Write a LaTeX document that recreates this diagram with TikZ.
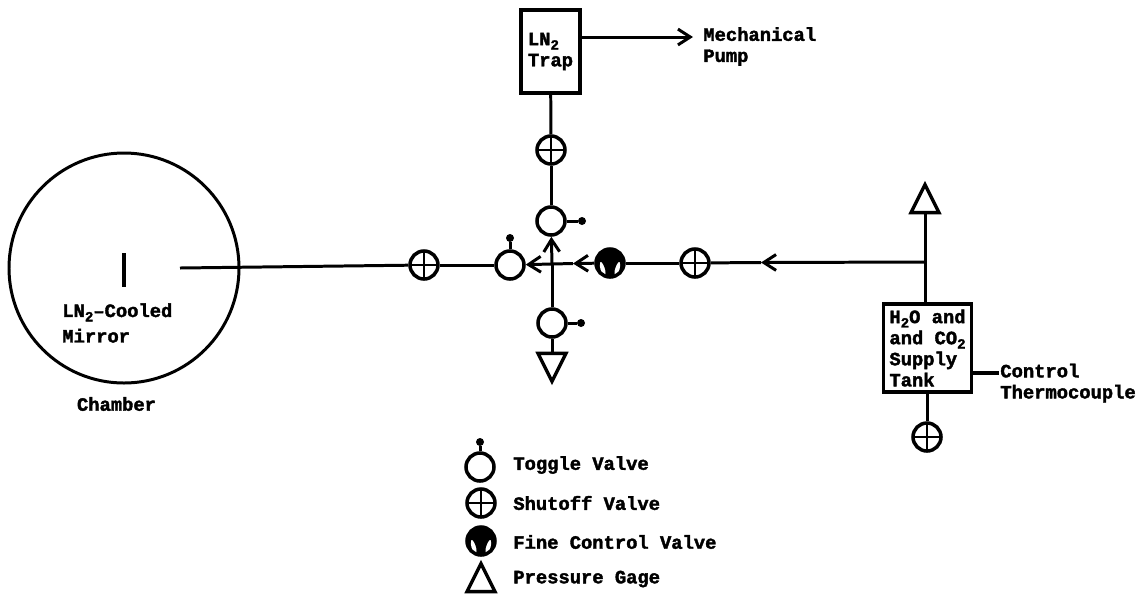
\documentclass[tikz,border=0pt]{standalone}
\usepackage{fontspec}
\setmainfont{Liberation Mono}[BoldFeatures={FakeBold=2}]
\usetikzlibrary{shapes.geometric, arrows.meta, positioning, calc}
\newcommand{\subtwo}{\raisebox{-2.5pt}{\footnotesize 2}}

\begin{document}
\begin{tikzpicture}[
  pipe/.style={line width=1.7pt},
  arr/.style={-{Straight Barb[length=7pt,width=9pt,line width=1.7pt]}, line width=1.7pt},
  lbl/.style={font=\fontsize{10.7}{12}\selectfont\bfseries, inner sep=0pt, align=left},
  tank/.style={
    rectangle, draw, line width=2pt, inner sep=0pt, align=left,
    font=\fontsize{10.7}{12}\selectfont\bfseries
  },
  toggle/.style={circle, draw, line width=2pt, fill=white, inner sep=0pt, minimum size=0.56cm},
  handle/.style={circle, fill=black, inner sep=0pt, minimum size=0.16cm},
  shutoff/.style={
    circle, draw, line width=2pt, fill=white, inner sep=0pt, minimum size=0.56cm,
    path picture={
      \draw[line width=1.4pt] (path picture bounding box.north) -- (path picture bounding box.south);
      \draw[line width=1.4pt] (path picture bounding box.west) -- (path picture bounding box.east);
    }
  },
  fine/.style={
    circle, draw, line width=2pt, fill=black, inner sep=0pt, minimum size=0.56cm,
    path picture={
      \fill[white] ($(path picture bounding box.center)+(-0.2,-0.02)$) .. controls +(-0.02,-0.12) and +(0.02,-0.15) .. ++(0.1,-0.22)
        .. controls +(0.05,0.08) and +(0,0.15) .. cycle;
      \fill[white] ($(path picture bounding box.center)+(0.2,-0.02)$) .. controls +(0.02,-0.12) and +(-0.02,-0.15) .. ++(-0.1,-0.22)
        .. controls +(-0.05,0.08) and +(0,0.15) .. cycle;
    }
  },
  gage/.style={
    isosceles triangle, isosceles triangle apex angle=50, isosceles triangle stretches,
    draw, line width=1.9pt, fill=white, inner sep=0pt, outer sep=0pt,
    minimum width=0.56cm, minimum height=0.56cm
  }
]
  \useasboundingbox (0,0) rectangle (22.92,-11.88);

  \node[circle, draw, line width=1.7pt, inner sep=0pt, minimum size=4.6cm] (chamber) at (2.48,-5.36) {};
  \coordinate (mirrortop) at (2.48,-5.06);
  \coordinate (mirrorbot) at (2.48,-5.74);
  \coordinate (port) at (3.6,-5.36);

  \node[shutoff] (sv1) at (8.48,-5.3) {};
  \node[toggle] (tv1) at (10.2,-5.3) {};
  \node[handle] (tv1h) at (10.2,-4.76) {};
  \coordinate (junc) at (11.04,-5.28);
  \coordinate (ar2) at (11.46,-5.27);
  \node[fine] (fc) at (12.2,-5.26) {};
  \node[shutoff] (sv2) at (13.9,-5.26) {};
  \coordinate (ar3) at (15.22,-5.25);
  \coordinate (tee) at (18.5,-5.24);

  \node[toggle] (tv2) at (11.02,-4.42) {};
  \node[handle] (tv2h) at (11.64,-4.42) {};
  \node[shutoff] (sv3) at (11.02,-3.0) {};
  \node[tank, minimum width=1.18cm, minimum height=1.66cm] (trap) at (11.01,-1.03) {LN\subtwo\\Trap};
  \coordinate (trapout) at (11.6,-0.74);
  \coordinate (pumpin) at (13.86,-0.74);

  \node[toggle] (tv3) at (11.04,-6.46) {};
  \node[handle] (tv3h) at (11.62,-6.46) {};
  \node[gage, shape border rotate=-90] (pg1) at (11.04,-7.24) {};

  \node[gage, shape border rotate=90] (pg2) at (18.5,-4.08) {};
  \node[tank, minimum width=1.76cm, minimum height=1.76cm] (supply) at (18.55,-6.96) {H\subtwo O and\\and CO\subtwo\\Supply\\Tank};
  \node[shutoff] (sv4) at (18.54,-8.74) {};
  \coordinate (tcin) at (19.98,-7.46);

  \draw[pipe, line width=2pt] (mirrortop) -- (mirrorbot);
  \draw[pipe] (port) -- (sv1);
  \draw[pipe] (sv1) -- (tv1);
  \draw[pipe] (tv1) -- (tv1h);
  \draw[arr] (junc) -- (tv1);
  \draw[arr] (fc) -- (ar2);
  \draw[pipe] (ar2) -- (junc);
  \draw[pipe] (fc) -- (sv2);
  \draw[pipe] (sv2) -- (ar3);
  \draw[arr] (tee) -- (ar3);
  \draw[pipe] (tv3) -- (tv3h);
  \draw[pipe] (tv2) -- (tv2h);
  \draw[pipe] (tv3) -- (junc);
  \draw[arr] (junc) -- (tv2);
  \draw[pipe] (tv2) -- (sv3);
  \draw[pipe] (sv3) -- (trap);
  \draw[pipe] (tv3) -- (pg1);
  \draw[arr] (trapout) -- (pumpin);
  \draw[pipe] (supply.north -| tee) -- (pg2);
  \draw[pipe] (supply.south -| sv4) -- (sv4);
  \draw[pipe, line width=2.8pt] (supply.east |- tcin) -- (tcin);

  \node[lbl, anchor=west] (mirrorlbl) at (1.24,-6.46) {LN\subtwo{}--Cooled\\[2.5pt]Mirror};
  \node[lbl] (chamberlbl) at (2.33,-8.08) {Chamber};
  \node[lbl, anchor=west] (pumplbl) at (14.06,-0.93) {Mechanical\\Pump};
  \node[lbl, anchor=west] (tclbl) at (20,-7.66) {Control\\Thermocouple};

  \node[toggle] (ktv) at (9.6,-9.34) {};
  \node[handle] (ktvh) at (9.6,-8.84) {};
  \draw[pipe] (ktv) -- (ktvh);
  \node[shutoff] (ksv) at (9.62,-10.06) {};
  \node[fine] (kfc) at (9.62,-10.82) {};
  \node[gage, shape border rotate=90] (kpg) at (9.62,-11.66) {};

  \node[lbl, anchor=west] (ktvlbl) at (10.26,-9.3) {Toggle Valve};
  \node[lbl, anchor=west] (ksvlbl) at (10.26,-10.06) {Shutoff Valve};
  \node[lbl, anchor=west] (kfclbl) at (10.26,-10.84) {Fine Control Valve};
  \node[lbl, anchor=west] (kpglbl) at (10.26,-11.58) {Pressure Gage};
\end{tikzpicture}
\end{document}
